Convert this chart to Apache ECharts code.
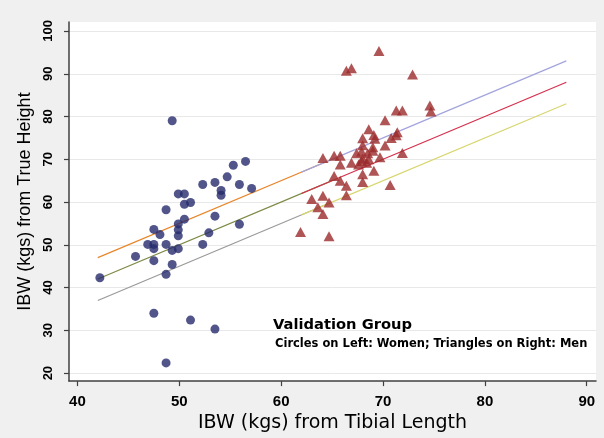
<!DOCTYPE html>
<html>
<head>
<meta charset="utf-8">
<script src="https://cdn.jsdelivr.net/npm/echarts@6/dist/echarts.min.js"></script>
<style>
html,body{margin:0;padding:0;background:#f0f0f0;}
#chart{width:604px;height:438px;}
</style>
</head>
<body>
<div id="chart"></div>
<script>
// Women (circles)
const womenX = [42.2,45.7,46.9,47.5,47.5,47.5,47.5,47.5,48.1,48.7,48.7,48.7,48.7,49.3,49.3,49.3,49.9,49.9,49.9,49.9,49.9,50.5,50.5,50.5,51.1,51.1,52.3,52.3,52.9,53.5,53.5,53.5,54.1,54.1,54.7,55.3,55.9,55.9,56.5,57.1];
const womenY = [42.3,47.3,50.1,50.1,49.1,53.6,46.3,34.0,52.4,58.2,50.1,43.1,22.4,79.0,48.7,45.4,61.9,54.9,53.5,52.1,49.1,61.9,59.5,56.0,59.9,32.4,64.1,50.1,52.8,64.6,56.7,30.3,62.7,61.6,65.9,68.6,64.1,54.8,69.5,63.2];
// Men (triangles)
const menX = [61.9,64.7,64.1,63.6,64.7,63.0,64.1,66.4,66.4,65.8,65.2,68.0,70.7,68.0,69.1,65.8,66.9,67.6,67.9,68.4,68.0,68.6,64.1,65.2,65.8,67.4,67.9,68.5,69.0,69.7,71.9,68.0,70.2,68.0,69.2,70.8,71.3,71.4,69.1,68.6,70.2,71.3,71.9,74.6,74.7,72.9,66.4,66.9,69.6,69.0];
const menY = [53.0,52.0,57.2,58.8,59.9,60.7,61.5,61.6,63.8,65.0,66.1,64.7,64.0,66.5,67.3,68.8,69.2,68.8,69.6,69.2,70.2,70.0,70.3,70.8,70.8,71.4,71.8,71.4,72.0,70.5,71.5,73.3,73.2,74.9,74.8,75.0,75.6,76.3,75.7,77.0,79.1,81.4,81.4,82.6,81.2,89.8,90.7,91.3,95.3,72.8];
// Reference lines (endpoints)
const womenUpper = [[42,47],[65,70]];
const womenMid   = [[42,42],[65,65]];
const womenLower = [[42,37],[65,60]];
const menUpper   = [[62,67],[88,93]];
const menMid     = [[62,62],[88,88]];
const menLower   = [[62,57],[88,83]];
// Tick labels
const xTicks = [40,50,60,70,80,90];
const yTicks = [20,30,40,50,60,70,80,90,100];
const xTitle = 'IBW (kgs) from Tibial Length';
const yTitle = 'IBW (kgs) from True Height';
const noteTitle = 'Validation Group';
const noteSub = 'Circles on Left: Women; Triangles on Right: Men';

const zip = (xs, ys) => xs.map((x, i) => [x, ys[i]]);
const lineSeries = (data, color) => ({
  type: 'line', data: data, symbol: 'none', silent: true,
  lineStyle: {color: color, width: 1.2}, z: 2
});

const chart = echarts.init(document.getElementById('chart'), null, {renderer: 'canvas'});
chart.setOption({
  backgroundColor: '#f0f0f0',
  animation: false,
  grid: {left: 69, right: 8, top: 22, bottom: 55, show: true, backgroundColor: '#ffffff', borderWidth: 0},
  title: [
    {text: noteTitle, left: 273, top: 318, padding: 0, textStyle: {fontFamily: 'DejaVu Sans', fontWeight: 'bold', fontSize: 14.7, color: '#000'}},
    {text: noteSub, left: 275, top: 338, padding: 0, textStyle: {fontFamily: 'DejaVu Sans', fontWeight: 'bold', fontSize: 11.5, color: '#000'}}
  ],
  xAxis: {
    type: 'value', min: 39.17, max: 90.91,
    name: xTitle, nameLocation: 'middle', nameGap: 32,
    nameTextStyle: {fontFamily: 'DejaVu Sans', fontSize: 19, color: '#000'},
    axisLine: {show: true, lineStyle: {color: '#404040', width: 1.5}},
    axisTick: {show: true, length: 5, customValues: xTicks, lineStyle: {color: '#404040', width: 1.2}},
    axisLabel: {customValues: xTicks, margin: 13, fontFamily: 'Liberation Sans', fontWeight: 'bold', fontSize: 15, color: '#000'},
    splitLine: {show: false}
  },
  yAxis: {
    type: 'value', min: 18.14, max: 102.1,
    name: yTitle, nameLocation: 'middle', nameGap: 30,
    nameTextStyle: {fontFamily: 'Liberation Sans', fontSize: 18, color: '#000'},
    axisLine: {show: true, lineStyle: {color: '#404040', width: 1.5}},
    axisTick: {show: true, length: 5, customValues: yTicks, lineStyle: {color: '#404040', width: 1.2}},
    axisLabel: {customValues: yTicks, rotate: 90, margin: 14, fontFamily: 'Liberation Sans', fontWeight: 'bold', fontSize: 13, color: '#000'},
    splitLine: {show: true, lineStyle: {color: '#e8e8e8', width: 1}}
  },
  series: [
    lineSeries(womenUpper, '#e8862a'),
    lineSeries(womenMid, '#7d8a45'),
    lineSeries(womenLower, '#9a9a9a'),
    lineSeries(menUpper, '#a3a4dc'),
    lineSeries(menMid, '#d4304d'),
    lineSeries(menLower, '#d8d670'),
    {type: 'scatter', data: zip(womenX, womenY), symbol: 'circle', symbolSize: 9,
     itemStyle: {color: '#262a6b'}, z: 3},
    {type: 'scatter', data: zip(menX, menY), symbol: 'triangle', symbolSize: [11, 10],
     itemStyle: {color: '#9b2a2c'}, z: 3}
  ]
});
</script>
</body>
</html>
